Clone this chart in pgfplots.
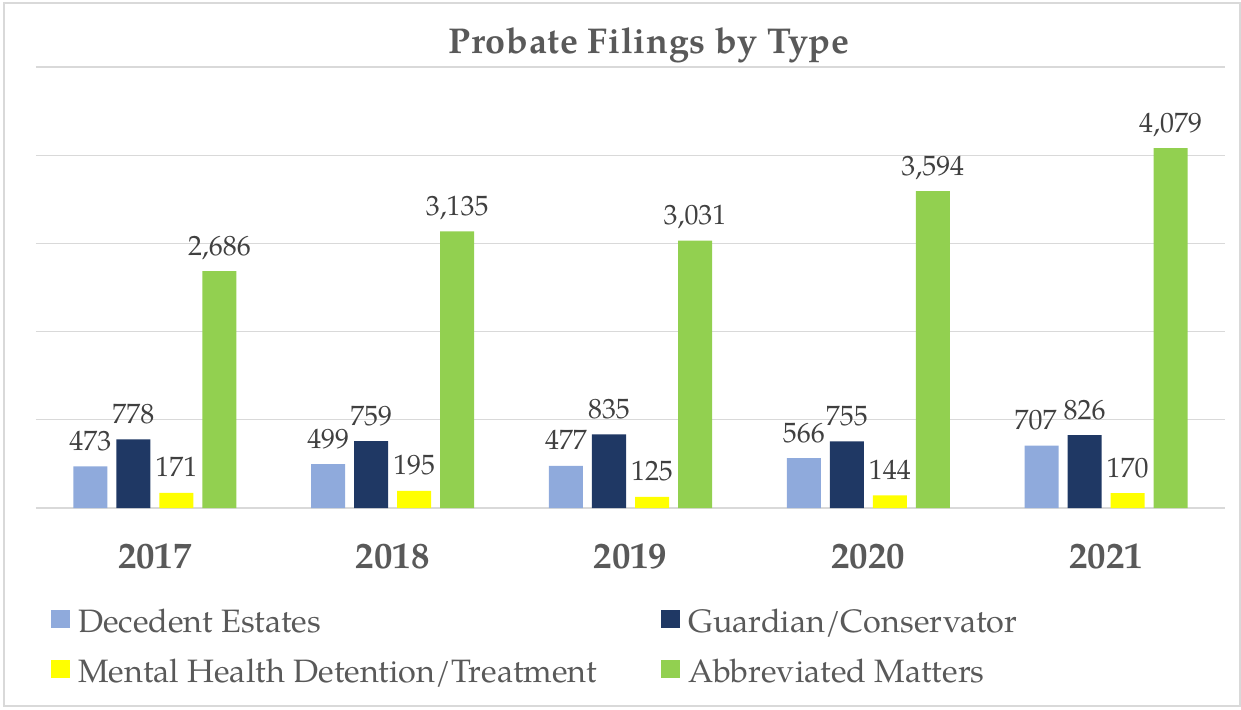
\documentclass[border=0pt]{standalone}
\usepackage{pgfplots}
\pgfplotsset{compat=1.18}
\usepackage{fontspec}
\setmainfont{texgyrepagella}[Extension=.otf, UprightFont=*-regular, BoldFont=*-bold, ItalicFont=*-italic, BoldItalicFont=*-bolditalic]
\definecolor{decblue}{HTML}{8FAADC}
\definecolor{guardnavy}{HTML}{1F3864}
\definecolor{mhyellow}{HTML}{FFFF00}
\definecolor{abbgreen}{HTML}{92D050}
\definecolor{txtgray}{HTML}{595959}
\definecolor{lblgray}{HTML}{404040}
\definecolor{gridgray}{HTML}{D9D9D9}
\begin{document}
\begin{tikzpicture}
\begin{axis}[
  scale only axis, width=1189bp, height=441bp,
  clip=false,
  xmin=-0.5, xmax=4.5, ymin=0, ymax=5000,
  ybar=9bp, bar width=34bp,
  axis line style={draw=none},
  major tick length=0pt,
  ytick={0,1000,2000,3000,4000,5000},
  yticklabels={},
  ymajorgrids,
  grid style={gridgray, line width=1.3bp},
  xtick={0,1,2,3,4},
  xticklabels={2017,2018,2019,2020,2021},
  xticklabel style={anchor=base, yshift=-60bp, font=\bfseries\fontsize{37}{40}\selectfont, text=txtgray},
  /pgf/number format/1000 sep={,},
  /pgf/number format/assume math mode=true,
  nodes near coords,
  every node near coord/.append style={anchor=base, yshift=16bp, inner sep=0pt, font=\fontsize{28}{31}\selectfont, text=lblgray},
  legend columns=2,
  legend cell align=left,
  legend style={at={(0.0126,-0.2313)}, anchor=north west, draw=none, fill=none, inner sep=0pt,
    font=\fontsize{32.5}{38}\selectfont, text=txtgray,
    nodes={inner sep=0pt, text height=22bp, text depth=8bp},
    /tikz/every odd column/.append style={column sep=8bp},
    /tikz/every even column/.append style={column sep=64bp},
    row sep=20bp},
  legend image code/.code={\fill[#1] (0bp,-3bp) rectangle (19bp,15bp);},
]
\addplot[fill=decblue, draw=none,
  visualization depends on={value \thisrow{dx} \as \dx},
  every node near coord/.append style={xshift=\dx bp}] table {
x y dx
0 473 0
1 499 0
2 477 0
3 566 0
4 707 -6
};
\addlegendentry{Decedent Estates}
\addplot[fill=guardnavy, draw=none] coordinates {(0,778) (1,759) (2,835) (3,755) (4,826)};
\addlegendentry{Guardian/Conservator}
\addplot[fill=mhyellow, draw=none] coordinates {(0,171) (1,195) (2,125) (3,144) (4,170)};
\addlegendentry{Mental Health Detention/Treatment}
\addplot[fill=abbgreen, draw=none] coordinates {(0,2686) (1,3135) (2,3031) (3,3594) (4,4079)};
\addlegendentry{Abbreviated Matters}
\node[anchor=base, font=\bfseries\fontsize{36}{40}\selectfont\addfontfeature{LetterSpace=2}, text=txtgray] at (axis description cs:0.515559,1.029478) {Probate Filings by Type};
\draw[gridgray, line width=1.5bp] (axis description cs:-0.026913,1.145125) rectangle (axis description cs:1.012616,-0.448980);
\coordinate (bl) at (axis description cs:-0.030278,-0.455782);
\coordinate (tr) at (axis description cs:1.013457,1.151927);
\end{axis}
\pgfresetboundingbox
\path (bl) rectangle (tr);
\end{tikzpicture}
\end{document}
